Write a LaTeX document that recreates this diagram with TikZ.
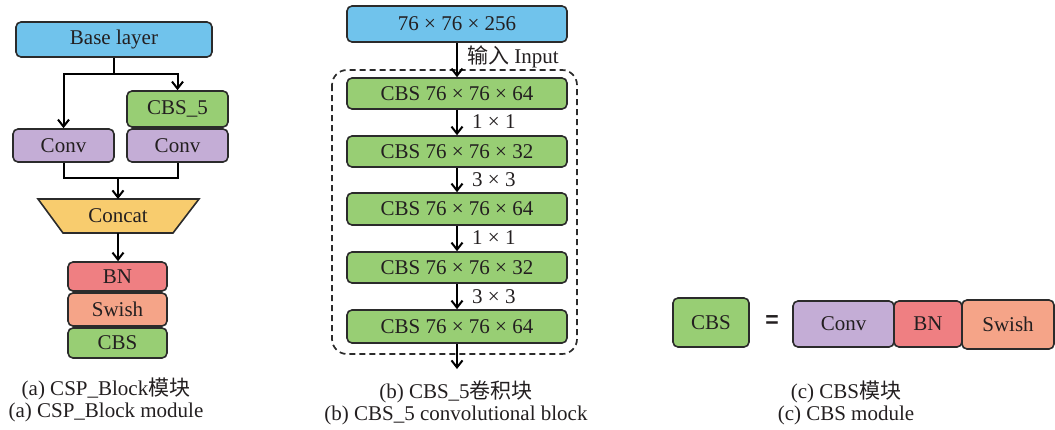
\documentclass[tikz,border=0pt]{standalone}
\usepackage{fontspec}
\setmainfont{Liberation Serif}
\newfontfamily\cjk{Noto Sans CJK SC}
\newfontfamily\eqfont{Liberation Sans}
\usetikzlibrary{arrows.meta,calc}

\definecolor{edge}{HTML}{2B2B2B}
\definecolor{txt}{HTML}{231F20}
\definecolor{cblue}{HTML}{70C3EC}
\definecolor{cgreen}{HTML}{98CE74}
\definecolor{cpurple}{HTML}{C4ADD6}
\definecolor{cyellow}{HTML}{F8CC6E}
\definecolor{cred}{HTML}{EF7F82}
\definecolor{csalmon}{HTML}{F5A488}

\begin{document}
\begin{tikzpicture}[x=1pt,y=-1pt,
  blk/.style={draw=edge, line width=1.6pt, rounded corners=5pt, inner sep=0pt,
              font=\fontsize{21}{24}\selectfont, text=txt},
  arr/.style={line width=2pt, draw=black,
              -{Straight Barb[length=7pt,width=11pt,line width=2pt]}},
  ln/.style={line width=2pt, draw=black},
  lbl/.style={anchor=west, inner sep=0pt, font=\fontsize{21}{24}\selectfont, text=txt},
  captext/.style={align=center, inner sep=0pt, font=\fontsize{21}{22.5}\selectfont, text=txt}
]
\useasboundingbox (0,0) rectangle (1055,429);

% ---------- (a) CSP_Block ----------
\node[blk, fill=cblue,   minimum width=196pt, minimum height=35pt] (base)  at (114,39.5)  {Base layer};
\node[blk, fill=cgreen,  minimum width=101pt, minimum height=36pt] (cbsf)  at (177.5,109) {CBS\_5};
\node[blk, fill=cpurple, minimum width=101pt, minimum height=33pt] (convR) at (177.5,145.5) {Conv};
\node[blk, fill=cpurple, minimum width=101pt, minimum height=33pt] (convL) at (63.5,145.5) {Conv};

% Concat trapezoid
\draw[draw=edge, line width=1.6pt, fill=cyellow] (38,199) -- (199,199) -- (173,233) -- (63,233) -- cycle;
\node[inner sep=0pt, minimum width=110pt, minimum height=34pt, font=\fontsize{21}{24}\selectfont, text=txt] (concat) at (118,216) {Concat};

\node[blk, fill=cred,    minimum width=99pt, minimum height=29pt] (bnA)    at (117.5,276.5) {BN};
\node[blk, fill=csalmon, minimum width=99pt, minimum height=33pt] (swishA) at (117.5,309.5) {Swish};
\node[blk, fill=cgreen,  minimum width=99pt, minimum height=30pt] (cbsA)   at (117.5,343)   {CBS};

% split from the base layer
\coordinate (split) at (114,74);
\draw[ln] (base.south) -- (split);
\draw[arr] (split) -| (convL.north);
\draw[arr] (split) -| (cbsf.north);

% merge into Concat
\coordinate (merge) at (118,178);
\draw[ln] (convL.south) |- (merge);
\draw[ln] (convR.south) |- (merge);
\draw[arr] (merge) -- (118,199);
\draw[arr] (concat.south) -- (concat.south |- bnA.north);

\node[captext] (capA) at (106,400) {(a) CSP\_Block{\cjk 模块}\\(a) CSP\_Block module};

% ---------- (b) CBS_5 ----------
\draw[draw=edge, line width=1.7pt, dashed, dash pattern=on 6pt off 4pt, rounded corners=15pt]
  (332,70) rectangle (577,354);

\node[blk, fill=cblue,  minimum width=220pt, minimum height=36pt] (inp) at (457,24)    {76 × 76 × 256};
\node[blk, fill=cgreen, minimum width=220pt, minimum height=31pt] (b1)  at (457,93.5)  {CBS 76 × 76 × 64};
\node[blk, fill=cgreen, minimum width=220pt, minimum height=31pt] (b2)  at (457,151.5) {CBS 76 × 76 × 32};
\node[blk, fill=cgreen, minimum width=220pt, minimum height=32pt] (b3)  at (457,209)   {CBS 76 × 76 × 64};
\node[blk, fill=cgreen, minimum width=220pt, minimum height=31pt] (b4)  at (457,267.5) {CBS 76 × 76 × 32};
\node[blk, fill=cgreen, minimum width=220pt, minimum height=33pt] (b5)  at (457,326.5) {CBS 76 × 76 × 64};
\coordinate (bout) at (457,369);

\draw[arr] (inp) -- (b1);
\draw[arr] (b1) -- (b2);
\draw[arr] (b2) -- (b3);
\draw[arr] (b3) -- (b4);
\draw[arr] (b4) -- (b5);
\draw[arr] (b5) -- (bout);

\node[lbl] (lin) at (467,57)  {{\cjk 输入} Input};
\node[lbl] (l1)  at (472,122) {1 × 1};
\node[lbl] (l2)  at (472,180) {3 × 3};
\node[lbl] (l3)  at (472,238) {1 × 1};
\node[lbl] (l4)  at (472,297) {3 × 3};

\node[captext] (capB) at (456,403) {(b) CBS\_5{\cjk 卷积块}\\(b) CBS\_5 convolutional block};

% ---------- (c) CBS ----------
\node[blk, fill=cgreen,   minimum width=76pt,  minimum height=49pt] (cbsC)   at (711,322.5) {CBS};
\node[inner sep=0pt, font=\eqfont\bfseries\fontsize{23}{24}\selectfont, text=txt] (eq) at (772,322) {=};
\node[blk, fill=cpurple,  minimum width=101pt, minimum height=46pt] (convC)  at (843.5,324) {Conv};
\node[blk, fill=cred,     minimum width=68pt,  minimum height=46pt] (bnC)    at (928,324)   {BN};
\node[blk, fill=csalmon,  minimum width=92pt,  minimum height=49pt] (swishC) at (1008,324.5) {Swish};

\node[captext] (capC) at (846,403) {(c) CBS{\cjk 模块}\\(c) CBS module};
\end{tikzpicture}
\end{document}
